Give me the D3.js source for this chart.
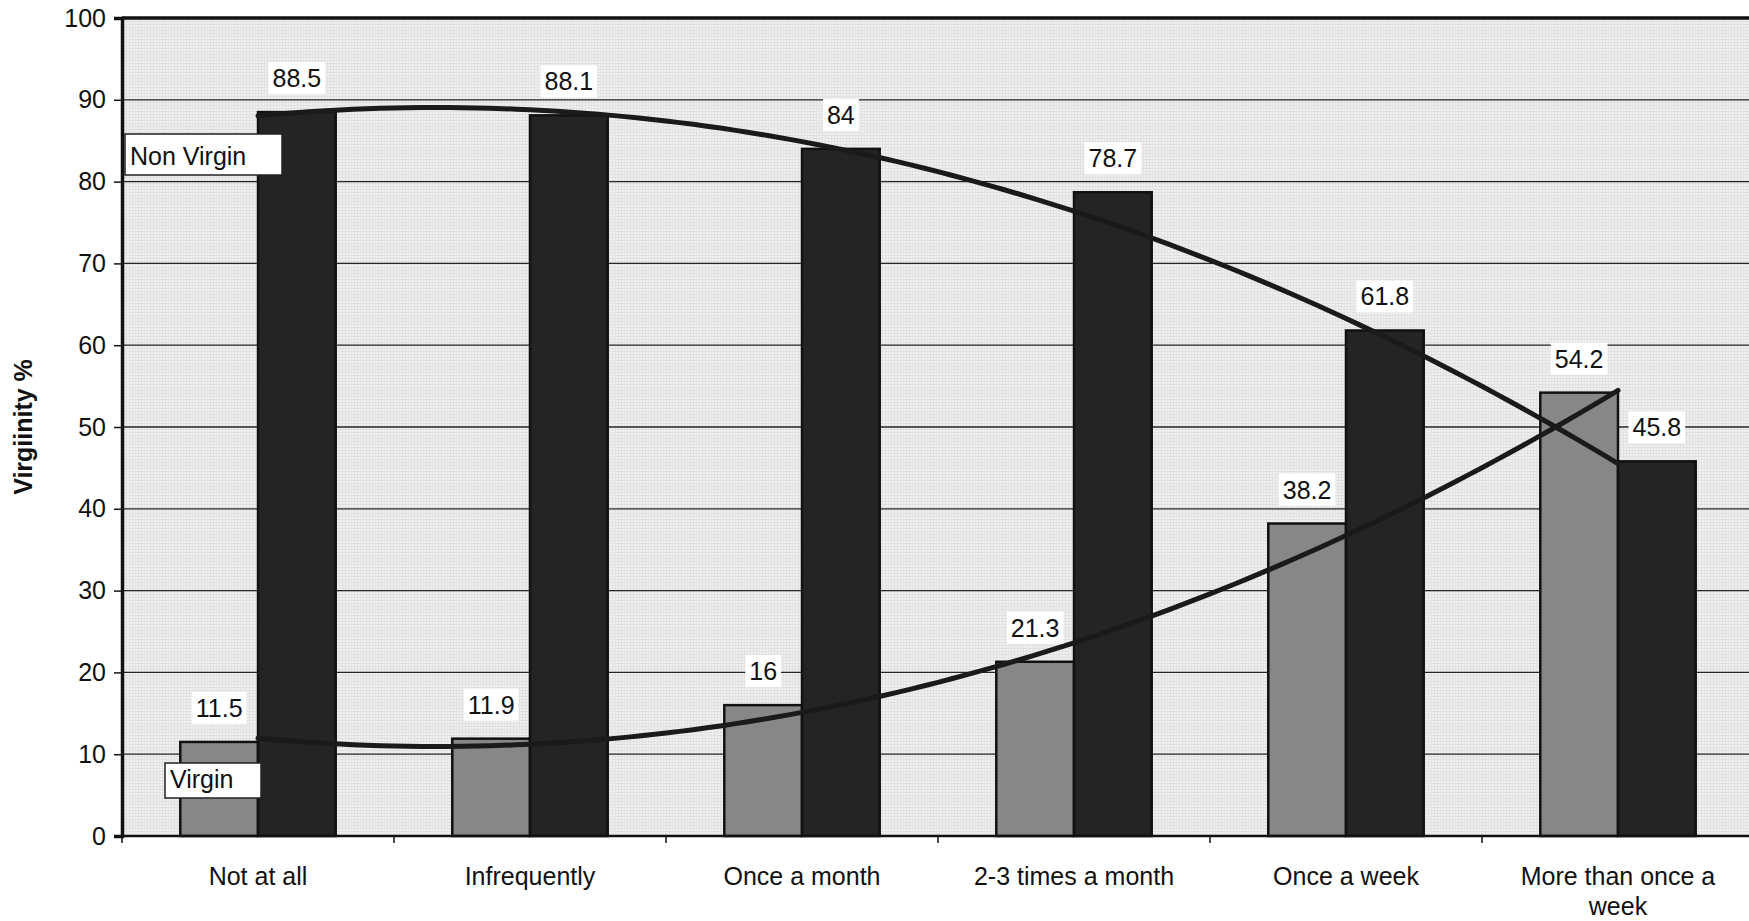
<!DOCTYPE html>
<html>
<head>
<meta charset="utf-8">
<script src="https://cdn.jsdelivr.net/npm/d3@7"></script>
<style>
  html, body { margin: 0; padding: 0; background: #fff; }
  svg { display: block; }
  text { font-family: "Liberation Sans", Arial, sans-serif; fill: #111; }
</style>
</head>
<body>
<svg id="chart" width="1749" height="921"></svg>
<script>
// Frequency categories along the x axis
const categories = ["Not at all", "Infrequently", "Once a month", "2-3 times a month", "Once a week", "More than once a week"];
// Percentages per category
const virgin = [11.5, 11.9, 16, 21.3, 38.2, 54.2];
const nonVirgin = [88.5, 88.1, 84, 78.7, 61.8, 45.8];
// Y axis ticks
const yTicks = [0, 10, 20, 30, 40, 50, 60, 70, 80, 90, 100];
const yTitle = "Virgiinity %";
const seriesNames = ["Virgin", "Non Virgin"];

const W = 1749, H = 921;
const plot = { left: 122, right: 1754, top: 18, bottom: 836 };

const svg = d3.select("#chart");

const x = d3.scaleBand().domain(categories).range([plot.left, plot.right]).padding(0);
const barW = x.bandwidth() / 3.5;           // two bars plus a 150% gap
const y = d3.scaleLinear().domain([0, 100]).range([plot.bottom, plot.top]);

// Plot-area fill: light grey with a fine screen texture
const defs = svg.append("defs");
const pat = defs.append("pattern").attr("id", "screen").attr("patternUnits", "userSpaceOnUse")
  .attr("width", 3).attr("height", 3);
pat.append("rect").attr("width", 3).attr("height", 3).attr("fill", "#f0f0f0");
pat.append("rect").attr("width", 3).attr("height", 1).attr("fill", "#e0e0e0");
pat.append("rect").attr("width", 1).attr("height", 3).attr("fill", "#e2e2e2");

svg.append("rect")
  .attr("x", plot.left).attr("y", plot.top)
  .attr("width", plot.right - plot.left).attr("height", plot.bottom - plot.top)
  .attr("fill", "url(#screen)");

// Horizontal gridlines
svg.append("g").selectAll("line")
  .data(yTicks.filter(d => d > 0 && d < 100))
  .join("line")
  .attr("x1", plot.left).attr("x2", plot.right)
  .attr("y1", d => y(d)).attr("y2", d => y(d))
  .attr("stroke", "#262626").attr("stroke-width", 1.3);

// Bars
const gBars = svg.append("g");
gBars.selectAll("rect.v")
  .data(categories)
  .join("rect").attr("class", "v")
  .attr("x", c => x(c) + x.bandwidth() / 2 - barW)
  .attr("y", (c, i) => y(virgin[i]))
  .attr("width", barW)
  .attr("height", (c, i) => y(0) - y(virgin[i]))
  .attr("fill", "#878787")
  .attr("stroke", "#111").attr("stroke-width", 2.5);

gBars.selectAll("rect.n")
  .data(categories)
  .join("rect").attr("class", "n")
  .attr("x", c => x(c) + x.bandwidth() / 2)
  .attr("y", (c, i) => y(nonVirgin[i]))
  .attr("width", barW)
  .attr("height", (c, i) => y(0) - y(nonVirgin[i]))
  .attr("fill", "#242424")
  .attr("stroke", "#111").attr("stroke-width", 2.5);

// Second-order polynomial trendline (least squares on category index 1..n)
function quadFit(vals) {
  const xs = vals.map((_, i) => i + 1);
  let S = [0, 0, 0, 0, 0], T = [0, 0, 0];
  xs.forEach((xv, i) => {
    for (let k = 0; k < 5; k++) S[k] += Math.pow(xv, k);
    for (let k = 0; k < 3; k++) T[k] += Math.pow(xv, k) * vals[i];
  });
  // Solve the normal equations via Cramer's rule
  const A = [[S[0], S[1], S[2]], [S[1], S[2], S[3]], [S[2], S[3], S[4]]];
  const det = m => m[0][0] * (m[1][1] * m[2][2] - m[1][2] * m[2][1])
                 - m[0][1] * (m[1][0] * m[2][2] - m[1][2] * m[2][0])
                 + m[0][2] * (m[1][0] * m[2][1] - m[1][1] * m[2][0]);
  const D = det(A);
  const coef = [0, 1, 2].map(c => {
    const M = A.map((row, r) => row.map((v, j) => (j === c ? T[r] : v)));
    return det(M) / D;
  });
  return t => coef[0] + coef[1] * t + coef[2] * t * t;
}

const xIdx = d3.scaleLinear()
  .domain([1, categories.length])
  .range([x(categories[0]) + x.bandwidth() / 2, x(categories[categories.length - 1]) + x.bandwidth() / 2]);
const tSamples = d3.range(1, categories.length + 0.0001, 0.05);
const trendLine = d3.line().x(d => xIdx(d[0])).y(d => y(d[1]));

[virgin, nonVirgin].forEach(vals => {
  const f = quadFit(vals);
  svg.append("path")
    .datum(tSamples.map(t => [t, f(t)]))
    .attr("d", trendLine)
    .attr("fill", "none")
    .attr("stroke", "#1a1a1a")
    .attr("stroke-width", 5)
    .attr("stroke-linecap", "round");
});

// Plot frame: top border
svg.append("line").attr("x1", plot.left).attr("x2", plot.right).attr("y1", plot.top).attr("y2", plot.top)
  .attr("stroke", "#111").attr("stroke-width", 3.5);

// Y axis
const yAxis = svg.append("g")
  .attr("transform", `translate(${plot.left},0)`)
  .call(d3.axisLeft(y).tickValues(yTicks).tickSize(8).tickPadding(8));
yAxis.select(".domain").attr("stroke", "#111").attr("stroke-width", 3.5);
yAxis.selectAll(".tick line").attr("stroke", "#111").attr("stroke-width", 1.5);
yAxis.selectAll(".tick text").attr("font-size", 25).attr("fill", "#111")
  .style("font-family", '"Liberation Sans", Arial, sans-serif');

// X axis line and category boundary ticks
svg.append("line").attr("x1", plot.left).attr("x2", plot.right).attr("y1", y(0)).attr("y2", y(0))
  .attr("stroke", "#111").attr("stroke-width", 2.5);
svg.append("g").selectAll("line")
  .data(d3.range(categories.length + 1))
  .join("line")
  .attr("x1", i => plot.left + i * x.bandwidth()).attr("x2", i => plot.left + i * x.bandwidth())
  .attr("y1", y(0)).attr("y2", y(0) + 7)
  .attr("stroke", "#111").attr("stroke-width", 1.5);

// Category labels, wrapped to the band width
const catG = svg.append("g");
categories.forEach(c => {
  const cx = x(c) + x.bandwidth() / 2;
  const t = catG.append("text")
    .attr("x", cx)
    .attr("y", 884.5)
    .attr("text-anchor", "middle")
    .attr("font-size", 25);
  const words = c.split(" ");
  let line = [];
  let tspan = t.append("tspan").attr("x", cx).attr("dy", 0);
  words.forEach(w => {
    line.push(w);
    tspan.text(line.join(" "));
    if (tspan.node().getComputedTextLength() > 240 && line.length > 1) {
      line.pop();
      tspan.text(line.join(" "));
      line = [w];
      tspan = t.append("tspan").attr("x", cx).attr("dy", 30).text(w);
    }
  });
});

// Y axis title
svg.append("text")
  .attr("transform", `translate(32,${(plot.top + plot.bottom) / 2}) rotate(-90)`)
  .attr("text-anchor", "middle")
  .attr("font-size", 25)
  .attr("font-weight", "bold")
  .text(yTitle);

// Data labels with white background boxes
const labelG = svg.append("g");
function addLabel(cx, v) {
  const g = labelG.append("g");
  const t = g.append("text")
    .attr("x", cx).attr("y", y(v) - 25)
    .attr("text-anchor", "middle")
    .attr("font-size", 25)
    .text(v);
  const bb = t.node().getBBox();
  g.insert("rect", "text")
    .attr("x", bb.x - 4).attr("y", bb.y - 2)
    .attr("width", bb.width + 8).attr("height", bb.height + 4)
    .attr("fill", "#fff");
}
categories.forEach((c, i) => {
  addLabel(x(c) + x.bandwidth() / 2 - barW / 2, virgin[i]);
  addLabel(x(c) + x.bandwidth() / 2 + barW / 2, nonVirgin[i]);
});

// Series name boxes
function nameBox(name, bx, by, bw, bh) {
  svg.append("rect").attr("x", bx).attr("y", by).attr("width", bw).attr("height", bh)
    .attr("fill", "#fff").attr("stroke", "#222").attr("stroke-width", 1.5);
  svg.append("text").attr("x", bx + 5).attr("y", by + bh - 10)
    .attr("font-size", 25).text(name);
}
nameBox(seriesNames[1], 125, 134, 157, 41);
nameBox(seriesNames[0], 165, 763, 96, 35);
</script>
</body>
</html>
